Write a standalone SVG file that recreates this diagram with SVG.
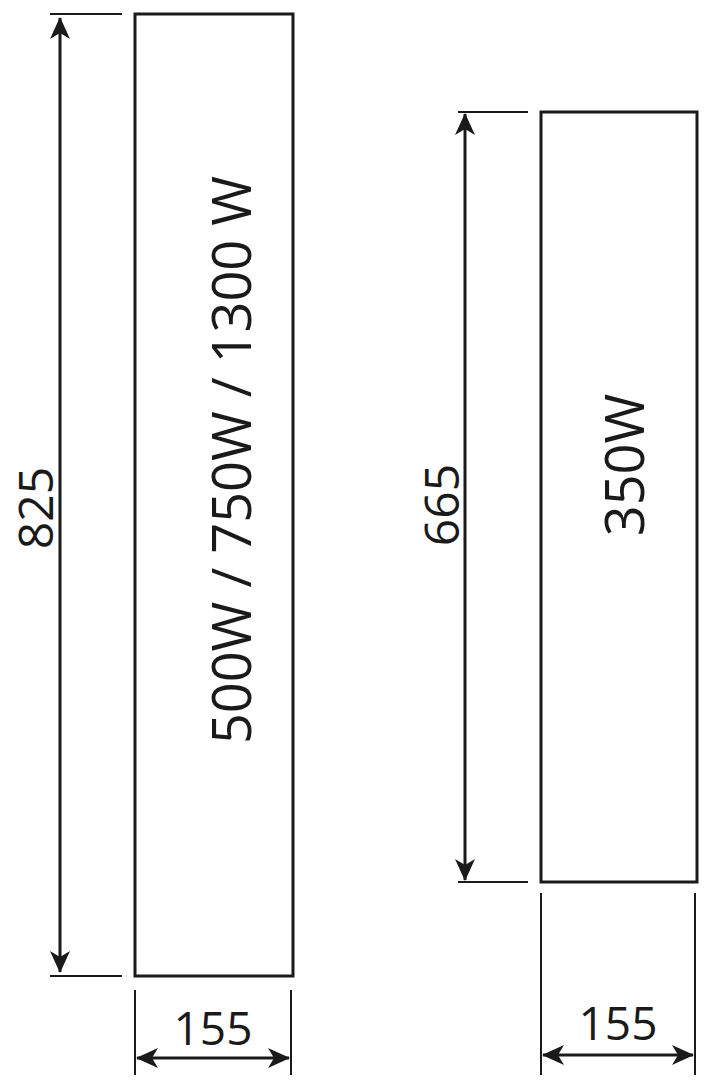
<svg xmlns="http://www.w3.org/2000/svg" width="712" height="1084" viewBox="0 0 712 1084">
<defs>
<marker id="a" viewBox="0 0 22 20" refX="21" refY="10" markerWidth="22" markerHeight="20" orient="auto-start-reverse" markerUnits="userSpaceOnUse">
<path d="M0,0 L22,10 L0,20 L6,10 Z" fill="#1a1a1a"/>
</marker>
<style>
.b{fill:#fff;stroke:#1a1a1a;stroke-width:3}
.l{stroke:#1a1a1a;stroke-width:2;fill:none}
.d{stroke:#1a1a1a;stroke-width:3;fill:none}
text{font-family:"Open Sans","Liberation Sans",sans-serif;fill:#1a1a1a;text-anchor:middle}
</style>
</defs>
<g id="panel1">
<rect class="b" x="135" y="14" width="158" height="962"/>
<text font-size="54" transform="translate(232,460) rotate(-90)" dy="19">500W / 750W / 1300 W</text>
</g>
<g id="panel2">
<rect class="b" x="541" y="112" width="156" height="770"/>
<text font-size="54" transform="translate(625,465) rotate(-90)" dy="19">350W</text>
</g>
<g id="connectors">
<line class="l" x1="50" y1="14" x2="122" y2="14"/>
<line class="l" x1="50" y1="976" x2="122" y2="976"/>
<line class="d" x1="60" y1="18" x2="60" y2="972" marker-start="url(#a)" marker-end="url(#a)"/>
<line class="l" x1="135" y1="990" x2="135" y2="1075"/>
<line class="l" x1="291" y1="990" x2="291" y2="1075"/>
<line class="d" x1="137" y1="1058" x2="289" y2="1058" marker-start="url(#a)" marker-end="url(#a)"/>
<line class="l" x1="458" y1="112" x2="528" y2="112"/>
<line class="l" x1="458" y1="882" x2="528" y2="882"/>
<line class="d" x1="465" y1="114" x2="465" y2="880" marker-start="url(#a)" marker-end="url(#a)"/>
<line class="l" x1="541" y1="893" x2="541" y2="1075"/>
<line class="l" x1="695" y1="893" x2="695" y2="1075"/>
<line class="d" x1="543" y1="1055" x2="693" y2="1055" marker-start="url(#a)" marker-end="url(#a)"/>
</g>
<g id="labels">
<text font-size="48" transform="translate(36,508) rotate(-90)" dy="17">825</text>
<text font-size="48" transform="translate(442,505) rotate(-90)" dy="17">665</text>
<text font-size="46" x="213" y="1045">155</text>
<text font-size="46" x="618" y="1040">155</text>
</g>
</svg>
